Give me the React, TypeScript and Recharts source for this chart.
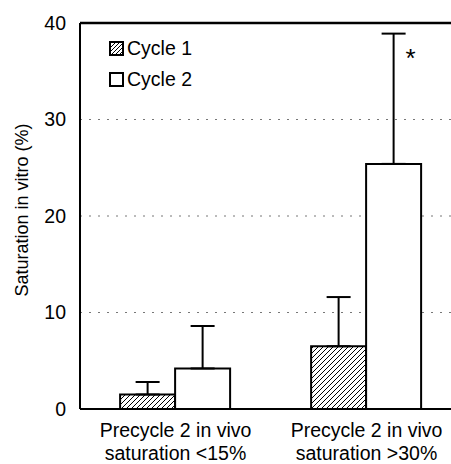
import React from 'react';
import {
  BarChart, Bar, XAxis, YAxis, CartesianGrid, ErrorBar,
  ReferenceLine, ReferenceDot,
} from 'recharts';

const categories = ['Precycle 2 in vivo\nsaturation <15%', 'Precycle 2 in vivo\nsaturation >30%'];
const cycle1 = [1.5, 6.5];
const cycle1Err = [1.3, 5.1];
const cycle2 = [4.2, 25.4];
const cycle2Err = [4.4, 13.5];
const yTicks = [0, 10, 20, 30, 40];
const legendItems = ['Cycle 1', 'Cycle 2'];
const starAt = { category: categories[1], value: 37 };

const FONT = '"Liberation Sans", Arial, sans-serif';

const data = categories.map((c, i) => ({
  name: c,
  c1: cycle1[i],
  c1e: [0, cycle1Err[i]],
  c2: cycle2[i],
  c2e: [0, cycle2Err[i]],
}));

const CategoryTick = (props: any) => {
  const { x, y, payload } = props;
  const lines = String(payload.value).split('\n');
  return (
    <text x={x} y={y} textAnchor="middle" fill="#000" fontSize={19.5} fontFamily={FONT}>
      {lines.map((l, i) => (
        <tspan key={i} x={x} dy={i === 0 ? 28 : 23}>{l}</tspan>
      ))}
    </text>
  );
};

// legend sits inside the plot, top-left
const LegendBox = () => (
  <div style={{ position: 'absolute', left: 109, top: 33, fontFamily: FONT, fontSize: 19.5, color: '#000', lineHeight: '31px' }}>
    {legendItems.map((label, i) => (
      <div key={label} style={{ display: 'flex', alignItems: 'center' }}>
        <svg width={15} height={15} style={{ marginRight: 3 }}>
          <defs>
            <pattern id={`lg-hatch-${i}`} patternUnits="userSpaceOnUse" width={4} height={4}>
              <path d="M0,4 l4,-4 M-1,1 l2,-2 M3,5 l2,-2" stroke="#000" strokeWidth={1} />
            </pattern>
          </defs>
          <rect x={1} y={1} width={13} height={13} fill={i === 0 ? `url(#lg-hatch-${i})` : '#fff'} stroke="#000" strokeWidth={2} />
        </svg>
        <span>{label}</span>
      </div>
    ))}
  </div>
);

export default function App() {
  return (
    <div style={{ position: 'fixed', left: 0, top: 0, width: 451, height: 464, overflow: 'hidden', background: '#fff' }}>
      <BarChart
        width={470}
        height={464}
        data={data}
        margin={{ top: 23, right: 8, bottom: 0, left: 0 }}
        barCategoryGap="21%"
        barGap={0}
      >
        <defs>
          <pattern id="hatch" patternUnits="userSpaceOnUse" width={5} height={5}>
            <path d="M0,5 l5,-5 M-1,1 l2,-2 M4,6 l2,-2" stroke="#000" strokeWidth={1} />
          </pattern>
        </defs>
        <CartesianGrid horizontal vertical={false} stroke="#777" strokeDasharray="2 7" />
        <XAxis
          dataKey="name"
          height={55}
          tick={<CategoryTick />}
          tickLine={false}
          tickSize={0}
          tickMargin={0}
          axisLine={{ stroke: '#000', strokeWidth: 2 }}
          interval={0}
        />
        <YAxis
          width={80}
          domain={[0, 40]}
          ticks={yTicks}
          tickLine={false}
          tickSize={0}
          tickMargin={14}
          axisLine={{ stroke: '#000', strokeWidth: 2 }}
          tick={{ fill: '#000', fontSize: 19.5, fontFamily: FONT }}
          label={{
            content: () => (
              <text
                x={22}
                y={210}
                transform="rotate(-90 22 210)"
                textAnchor="middle"
                dominantBaseline="central"
                fontSize={18}
                fontFamily={FONT}
                fill="#000"
              >
                Saturation in vitro (%)
              </text>
            ),
          }}
        />
        <ReferenceLine y={40} stroke="#000" strokeWidth={2.5} />
        <Bar dataKey="c1" name="Cycle 1" fill="url(#hatch)" stroke="#000" strokeWidth={2} isAnimationActive={false}>
          <ErrorBar dataKey="c1e" width={12} stroke="#000" strokeWidth={2} direction="y" />
        </Bar>
        <Bar dataKey="c2" name="Cycle 2" fill="#fff" stroke="#000" strokeWidth={2} isAnimationActive={false}>
          <ErrorBar dataKey="c2e" width={12} stroke="#000" strokeWidth={2} direction="y" />
        </Bar>
        <ReferenceDot
          x={starAt.category}
          y={starAt.value}
          r={0}
          shape={(p: any) => (
            <text x={p.cx + 44} y={p.cy + 15} textAnchor="middle" fontSize={26} fontFamily={FONT} fill="#000">
              *
            </text>
          )}
        />
      </BarChart>
      <LegendBox />
    </div>
  );
}
